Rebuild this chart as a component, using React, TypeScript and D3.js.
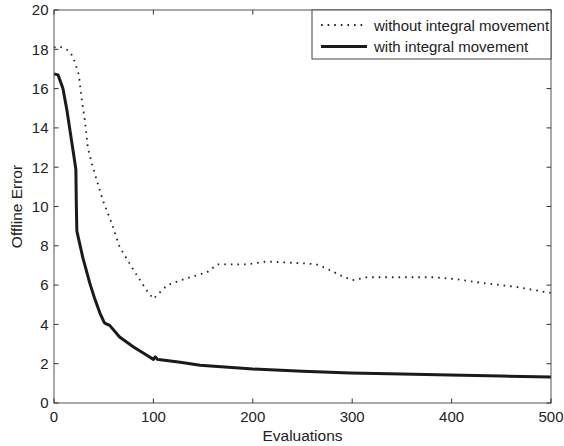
import React from "react";
import * as d3 from "d3";

const xTicks = [0, 100, 200, 300, 400, 500];
const yTicks = [0, 2, 4, 6, 8, 10, 12, 14, 16, 18, 20];

const withoutX = [0, 5, 10, 14, 18, 21, 25, 28, 31, 34, 38, 43, 49, 58, 66, 80, 93, 100, 107, 114, 125, 137, 154, 164, 180, 194, 214, 234, 254, 264, 274, 288, 300, 315, 348, 382, 405, 432, 466, 500];
const withoutY = [18.1, 18.15, 18.05, 17.95, 17.7, 17.35, 16.7, 15.4, 14.4, 13.0, 12.2, 11.35, 10.33, 9.16, 7.94, 6.77, 5.75, 5.3, 5.65, 6.0, 6.2, 6.4, 6.65, 7.05, 7.05, 7.05, 7.2, 7.15, 7.1, 7.05, 6.85, 6.5, 6.25, 6.4, 6.4, 6.4, 6.3, 6.1, 5.9, 5.6];

const withX = [0, 4, 9, 13, 16, 19, 22, 22.5, 23, 29, 36, 41, 46, 50, 51, 56, 66, 80, 93, 100, 101, 102, 104, 107, 127, 147, 200, 250, 298, 350, 398, 450, 500];
const withY = [16.75, 16.7, 16.0, 14.9, 13.9, 12.9, 11.9, 10.0, 8.75, 7.4, 6.1, 5.3, 4.6, 4.15, 4.07, 3.95, 3.36, 2.85, 2.44, 2.22, 2.3, 2.35, 2.22, 2.2, 2.07, 1.92, 1.73, 1.62, 1.53, 1.47, 1.42, 1.37, 1.32];

const legendLabels = ["without integral movement", "with integral movement"];
const xLabel = "Evaluations";
const yLabel = "Offline Error";

export default function App() {
  const W = 564, H = 446;
  const L = 54, R = 551, T = 10, B = 403;
  const x = d3.scaleLinear().domain([0, 500]).range([L, R]);
  const y = d3.scaleLinear().domain([0, 20]).range([B, T]);
  const line = d3.line<[number, number]>().x(d => x(d[0])).y(d => y(d[1]));
  const dWithout = line(withoutX.map((v, i) => [v, withoutY[i]]) as [number, number][]) || "";
  const dWith = line(withX.map((v, i) => [v, withY[i]]) as [number, number][]) || "";
  const font = "'Liberation Sans', Arial, Helvetica, sans-serif";
  const tc = "#222";
  const tl = 4.5;
  return (
    <div style={{ position: "fixed", left: 0, top: 0 }}>
      <svg width={W} height={H} style={{ display: "block", background: "#fff" }} fontFamily={font}>
        <rect x={0} y={0} width={W} height={H} fill="#fff" />
        {/* curves */}
        <path d={dWithout} fill="none" stroke="#222" strokeWidth={1.8} strokeDasharray="1.6 5" />
        <path d={dWith} fill="none" stroke="#1a1a1a" strokeWidth={3} strokeLinejoin="round" />
        {/* box */}
        <rect x={L} y={T} width={R - L} height={B - T} fill="none" stroke="#555" strokeWidth={1} />
        {xTicks.map(t => (
          <g key={"x" + t}>
            <line x1={x(t)} x2={x(t)} y1={B} y2={B - tl} stroke="#333" />
            <line x1={x(t)} x2={x(t)} y1={T} y2={T + tl} stroke="#333" />
            <text x={x(t)} y={422} textAnchor="middle" fontSize={15} fill={tc}>{t}</text>
          </g>
        ))}
        {yTicks.map(t => (
          <g key={"y" + t}>
            <line x1={L} x2={L + tl} y1={y(t)} y2={y(t)} stroke="#333" />
            <line x1={R} x2={R - tl} y1={y(t)} y2={y(t)} stroke="#333" />
            <text x={48.5} y={y(t) + 5.3} textAnchor="end" fontSize={15} fill={tc}>{t}</text>
          </g>
        ))}
        <text x={(L + R) / 2} y={440.5} textAnchor="middle" fontSize={15.5} fill={tc}>{xLabel}</text>
        <text transform={`translate(22,${(T + B) / 2}) rotate(-90)`} textAnchor="middle" fontSize={15.5} fill={tc}>{yLabel}</text>
        {/* legend */}
        <rect x={312} y={T} width={R - 312} height={49} fill="#fff" stroke="#444" strokeWidth={1} />
        <line x1={321} x2={367} y1={25} y2={25} stroke="#222" strokeWidth={1.8} strokeDasharray="1.6 5" />
        <line x1={321} x2={367} y1={46.5} y2={46.5} stroke="#1a1a1a" strokeWidth={3} />
        <text x={374} y={31} fontSize={15} fill={tc}>{legendLabels[0]}</text>
        <text x={374} y={51.5} fontSize={15} fill={tc}>{legendLabels[1]}</text>
      </svg>
    </div>
  );
}
